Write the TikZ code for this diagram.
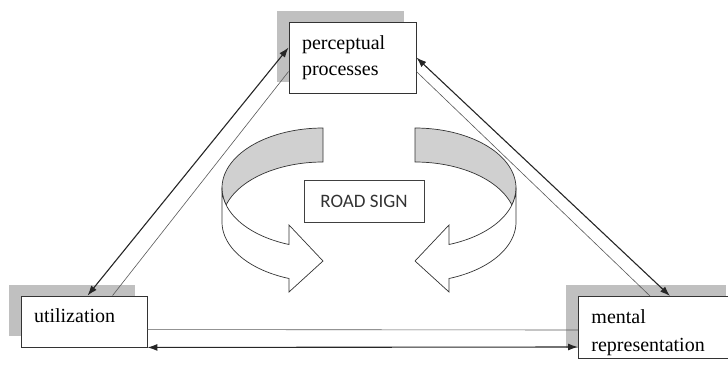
\documentclass[tikz,border=0pt]{standalone}
\usepackage{fontspec}
\setmainfont{Liberation Serif}
\newfontfamily\signfont{Carlito}
\usetikzlibrary{calc,shadows,arrows.meta}
\definecolor{shadowgray}{RGB}{192,192,192}
\definecolor{bandgray}{RGB}{208,208,208}
\tikzset{
  box/.style={draw=black!80,line width=.9pt,fill=white,align=left,inner xsep=13pt,
    font=\fontsize{20}{26}\selectfont,
    drop shadow={shadow xshift=-12pt,shadow yshift=11pt,fill=shadowgray,opacity=1}},
  signbox/.style={draw=black!75,line width=.7pt,minimum width=120pt,minimum height=42pt,
    font=\signfont\fontsize{19}{22}\selectfont,text=black!80},
  thickarr/.style={line width=1.1pt,black!85,<->,>={Latex[length=10pt,width=7pt]}},
  thinline/.style={line width=.6pt,black!65},
  ring/.style={draw=black!80,line width=.7pt}
}
\begin{document}
\begin{tikzpicture}[x=1pt,y=-1pt] % three boxes round the road sign
        \useasboundingbox (0,0) rectangle (728,367);
        \clip (0,0) rectangle (728,367);
        % turning arrows, the right one is the left one mirrored
        \foreach \s/\o in {1/0,-1/738}{
        \begin{scope}[shift={(\o,0)},xscale=\s]
        \filldraw[ring,fill=bandgray](323,128)
                -- plot[domain=270:163.5,samples=40,variable=\t]({323+101*cos(\t)},{188+60*sin(\t)})
                -- plot[domain=196.5:270,samples=40,variable=\t]({323+101*cos(\t)},{222+60*sin(\t)})
                -- cycle;
        \filldraw[ring,fill=white](222,188)--(222,222)
                -- plot[domain=180:109.7,samples=40,variable=\t]({323+101*cos(\t)},{222+60*sin(\t)})
                --(289,292)--(323,261)--(289,225)
                -- plot[domain=109.7:180,samples=40,variable=\t]({323+101*cos(\t)},{188+60*sin(\t)})
                -- cycle;
        \end{scope}}
        \node[signbox] (sign) at (364,201) {ROAD SIGN};
        \node[box,text width=101pt,minimum height=71pt] (perc) at (352.5,57.5) {perceptual\\processes};
        \node[box,text width=100pt,minimum height=51pt,text depth=11pt] (util) at (84,321.5) {utilization};
        \node[box,text width=134pt,inner ysep=13.3pt,text depth=22pt,anchor=north west,font=\fontsize{20}{28}\selectfont]
                (ment) at (578,296) {mental\\representation};
        \draw[thickarr]($(perc.north west)+(0,26)$)--($(util.north west)+(67,0)$);
        \draw[thinline]($(perc.north west)+(0,50)$)--($(util.north west)+(92,0)$);
        \draw[thickarr]($(perc.north east)+(0,36)$)--($(ment.north west)+(92,0)$);
        \draw[thinline]($(perc.north east)+(0,50)$)--($(ment.north west)+(72,0)$);
        \draw[thinline]($(util.north east)+(0,34)$)--($(ment.north west)+(0,34)$);
        \draw[thickarr](util.south east)--($(ment.north west)+(0,51)$);
\end{tikzpicture}
\end{document}
